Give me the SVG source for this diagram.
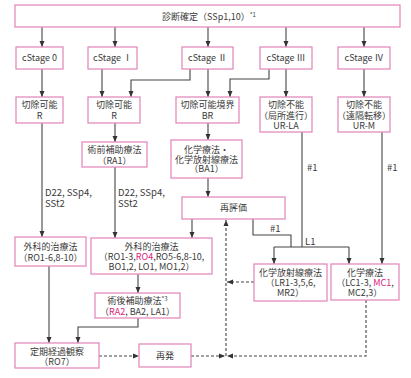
<svg xmlns="http://www.w3.org/2000/svg" width="411" height="378" viewBox="0 0 411 378">
<defs>
<marker id="ah" viewBox="0 0 6 6" refX="6" refY="3" markerWidth="6" markerHeight="6" orient="auto" markerUnits="userSpaceOnUse">
<path d="M0,0.5 L6,3 L0,5.5 z" fill="#333"/>
</marker>
<style>
.b{fill:#fff;stroke:#e48cbd;stroke-width:1.3}
.t{font-family:"Noto Sans CJK JP","Noto Sans",sans-serif;font-size:9px;fill:#3a3a3a;text-anchor:middle}
.l{font-family:"Noto Sans CJK JP","Noto Sans",sans-serif;font-size:9.5px;fill:#3a3a3a}
.r{fill:#e0237a}
.s{font-size:6px}
.c{fill:none;stroke:#444;stroke-width:1.1}
.a{marker-end:url(#ah)}
.d{stroke-dasharray:3,2}
</style>
</defs>
<rect width="411" height="378" fill="#fff"/>
<g id="connectors">
<path class="c a" d="M42,27V47"/>
<path class="c a" d="M115,27V47"/>
<path class="c a" d="M208,27V47"/>
<path class="c a" d="M286,27V47"/>
<path class="c a" d="M364,27V47"/>
<path class="c a" d="M42,69V97"/>
<path class="c a" d="M102,69V97"/>
<path class="c a" d="M190,69V80H131V97"/>
<path class="c a" d="M208,69V97"/>
<path class="c a" d="M269,69V79H230V97"/>
<path class="c a" d="M286,69V97"/>
<path class="c a" d="M364,69V97"/>
<path class="c a" d="M42,123V237"/>
<path class="c a" d="M115,123V142"/>
<path class="c a" d="M115,167V238"/>
<path class="c a" d="M208,123V140"/>
<path class="c a" d="M208,178V197"/>
<path class="c a" d="M192,219V238"/>
<path class="c" d="M253,219V235H291V247"/>
<path class="c" d="M302,132V247"/>
<path class="c" d="M274,247H349"/>
<path class="c a" d="M274,247V264"/>
<path class="c a" d="M349,247V264"/>
<path class="c a" d="M382,132V264"/>
<path class="c a" d="M138,274V293"/>
<path class="c a" d="M138,318V327H78V343"/>
<path class="c a" d="M49,266V343"/>
<path class="c d a" d="M99,356H139"/>
<path class="c d a" d="M191,356H225"/>
<path class="c d a" d="M366,300V356H227"/>
<path class="c d a" d="M254,282H227"/>
<path class="c d a" d="M226,356V220"/>
<text class="l" x="45" y="196">D22, SSp4,</text>
<text class="l" x="45" y="207">SSt2</text>
<text class="l" x="118" y="196">D22, SSp4,</text>
<text class="l" x="118" y="207">SSt2</text>
<text class="l" x="307" y="171">#1</text>
<text class="l" x="387" y="171">#1</text>
<text class="l" x="270" y="232">#1</text>
<text class="l" x="305" y="245">L1</text>
</g>
<g id="top"><rect class="b" x="15" y="5" width="385" height="22"/><text class="t" x="209" y="19.5">診断確定（SSp1,10）<tspan class="s" dy="-3">*1</tspan></text></g>
<g id="cs0"><rect class="b" x="16" y="47" width="47" height="22"/><text class="t" x="39.5" y="61">cStage 0</text></g>
<g id="cs1"><rect class="b" x="88" y="47" width="49" height="22"/><text class="t" x="112.5" y="61">cStage Ⅰ</text></g>
<g id="cs2"><rect class="b" x="182" y="47" width="51" height="22"/><text class="t" x="207.5" y="61">cStage Ⅱ</text></g>
<g id="cs3"><rect class="b" x="260" y="47" width="52" height="22"/><text class="t" x="286" y="61">cStage Ⅲ</text></g>
<g id="cs4"><rect class="b" x="338" y="47" width="52" height="22"/><text class="t" x="364" y="61">cStage Ⅳ</text></g>
<g id="r0"><rect class="b" x="16" y="97" width="47" height="26"/><text class="t" x="39.5" y="108">切除可能</text><text class="t" x="39.5" y="119">R</text></g>
<g id="r1"><rect class="b" x="88" y="97" width="52" height="26"/><text class="t" x="114" y="108">切除可能</text><text class="t" x="114" y="119">R</text></g>
<g id="br"><rect class="b" x="176" y="97" width="63" height="26"/><text class="t" x="207.5" y="108">切除可能境界</text><text class="t" x="207.5" y="119">BR</text></g>
<g id="urla"><rect class="b" x="260" y="97" width="52" height="35"/><text class="t" x="286" y="108">切除不能</text><text class="t" x="286" y="118.5">（局所進行）</text><text class="t" x="286" y="129">UR-LA</text></g>
<g id="urm"><rect class="b" x="338" y="97" width="52" height="35"/><text class="t" x="364" y="108">切除不能</text><text class="t" x="364" y="118.5">（遠隔転移）</text><text class="t" x="364" y="129">UR-M</text></g>
<g id="ra1"><rect class="b" x="82" y="142" width="65" height="25"/><text class="t" x="114.5" y="153">術前補助療法</text><text class="t" x="114.5" y="163.5">（RA1）</text></g>
<g id="ba1"><rect class="b" x="171" y="140" width="71" height="38"/><text class="t" x="206.5" y="153">化学療法・</text><text class="t" x="206.5" y="162.5">化学放射線療法</text><text class="t" x="206.5" y="172">（BA1）</text></g>
<g id="reeval"><rect class="b" x="182" y="197" width="103" height="22"/><text class="t" x="233.5" y="211">再評価</text></g>
<g id="surg0"><rect class="b" x="15" y="237" width="71" height="29"/><text class="t" x="50.5" y="250">外科的治療法</text><text class="t" x="50.5" y="260.5">（RO1-6,8-10）</text></g>
<g id="surg1"><rect class="b" x="91" y="238" width="121" height="36"/><text class="t" x="151.5" y="250">外科的治療法</text><text class="t" x="151.5" y="260">（RO1-3,<tspan class="r">RO4</tspan>,RO5-6,8-10,</text><text class="t" x="151.5" y="270">BO1,2, LO1, MO1,2）</text></g>
<g id="adj"><rect class="b" x="95" y="293" width="85" height="25"/><text class="t" x="137.5" y="303.5">術後補助療法<tspan class="s" dy="-3">*3</tspan></text><text class="t" x="137.5" y="314.5">（<tspan class="r">RA2</tspan>, BA2, LA1）</text></g>
<g id="crt"><rect class="b" x="254" y="264" width="73" height="37"/><text class="t" x="290.5" y="276">化学放射線療法</text><text class="t" x="290.5" y="286">（LR1-3,5,6,</text><text class="t" x="290.5" y="295.5">MR2）</text></g>
<g id="chemo"><rect class="b" x="331" y="264" width="68" height="36"/><text class="t" x="365" y="276">化学療法</text><text class="t" x="365" y="286">（LC1-3, <tspan class="r">MC1</tspan>,</text><text class="t" x="365" y="295.5">MC2,3）</text></g>
<g id="follow"><rect class="b" x="15" y="343" width="84" height="25"/><text class="t" x="57" y="354.5">定期経過観察</text><text class="t" x="57" y="364.5">（RO7）</text></g>
<g id="recur"><rect class="b" x="139" y="344" width="52" height="23"/><text class="t" x="165" y="359">再発</text></g>
</svg>
